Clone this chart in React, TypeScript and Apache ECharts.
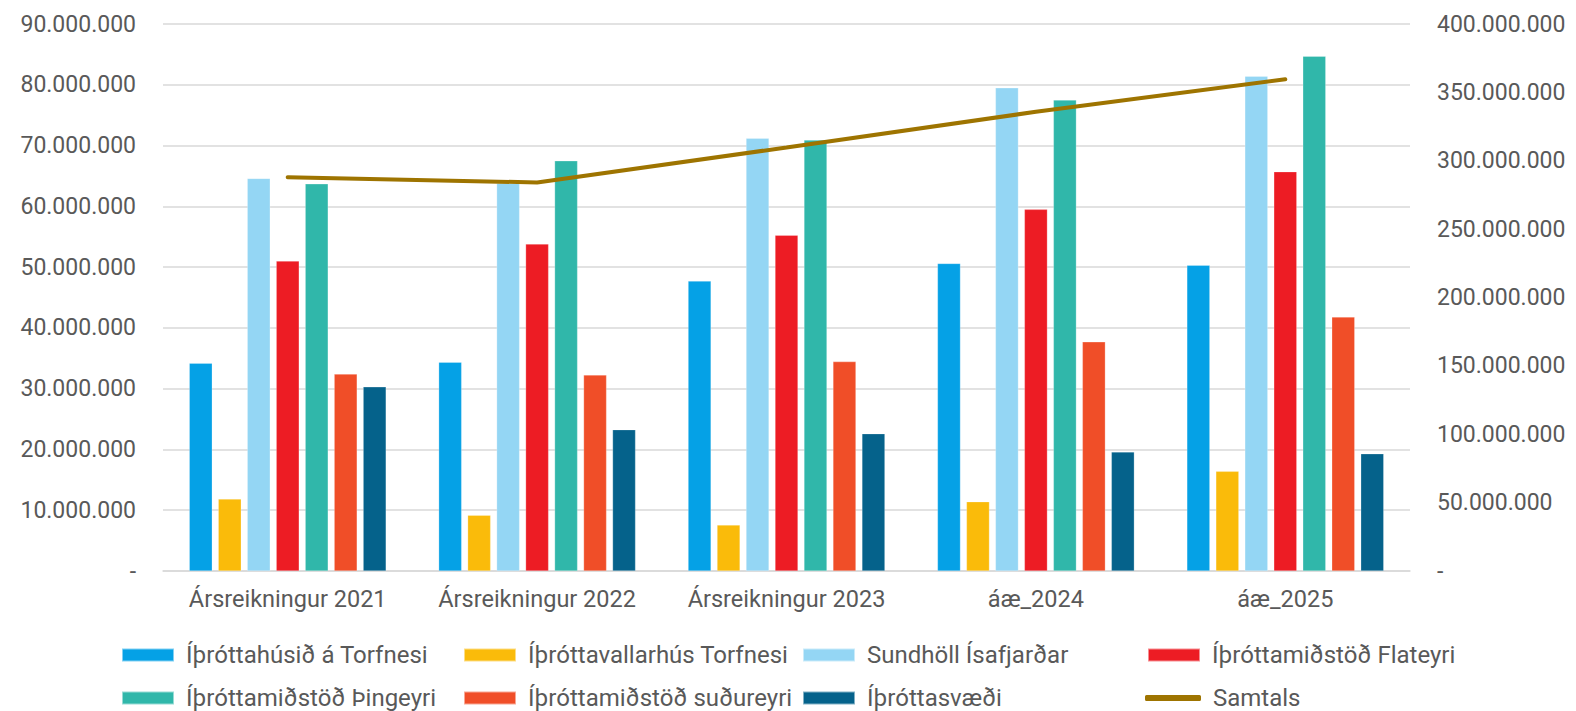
import React, { useEffect, useRef } from "react";
import * as echarts from "echarts";

const categories = ["Ársreikningur 2021", "Ársreikningur 2022", "Ársreikningur 2023", "áæ_2024", "áæ_2025"];

const torfnesHus = [34200000, 34350000, 47700000, 50600000, 50300000];
const torfnesVallarhus = [11850000, 9170000, 7570000, 11400000, 16400000];
const sundholl = [64600000, 63800000, 71200000, 79500000, 81400000];
const flateyri = [51000000, 53800000, 55250000, 59500000, 65700000];
const thingeyri = [63700000, 67500000, 70900000, 77500000, 84700000];
const sudureyri = [32400000, 32260000, 34450000, 37700000, 41800000];
const svaedi = [30300000, 23260000, 22600000, 19600000, 19300000];
const samtals = [288000000, 284100000, 309700000, 335800000, 359600000];

const barSeriesDefs = [
  { name: "Íþróttahúsið á Torfnesi", data: torfnesHus, color: "#05a1e6" },
  { name: "Íþróttavallarhús Torfnesi", data: torfnesVallarhus, color: "#fabb0a" },
  { name: "Sundhöll Ísafjarðar", data: sundholl, color: "#94d6f4" },
  { name: "Íþróttamiðstöð Flateyri", data: flateyri, color: "#ed1c24" },
  { name: "Íþróttamiðstöð Þingeyri", data: thingeyri, color: "#30b7aa" },
  { name: "Íþróttamiðstöð suðureyri", data: sudureyri, color: "#f04e28" },
  { name: "Íþróttasvæði", data: svaedi, color: "#05628b" },
];
const lineName = "Samtals";
const lineColor = "#9e7400";

const fmt = (v: number) =>
  v === 0 ? "-" : Math.round(v).toString().replace(/\B(?=(\d{3})+(?!\d))/g, ".");

const FONT = "Roboto";
const TXT = "#595959";

export default function App() {
  const ref = useRef<HTMLDivElement>(null);
  useEffect(() => {
    if (!ref.current) return;
    const chart = echarts.init(ref.current, undefined, { renderer: "svg" });

    const legendPos = [
      { left: 121, top: 641 },
      { left: 463, top: 641 },
      { left: 802, top: 641 },
      { left: 1147, top: 641 },
      { left: 121, top: 684 },
      { left: 463, top: 684 },
      { left: 802, top: 684 },
      { left: 1145, top: 684 },
    ];
    const legendNames = [...barSeriesDefs.map((d) => d.name), lineName];
    const legends = legendNames.map((n, i) => ({
      data: [n],
      left: legendPos[i].left,
      top: legendPos[i].top,
      padding: 0,
      itemWidth: i === 7 ? 56 : 52,
      itemHeight: i === 7 ? 6 : 13,
      icon: i === 7 ? "roundRect" : "rect",
      selectedMode: false,
      textStyle: {
        fontFamily: FONT,
        fontSize: 24,
        color: TXT,
        lineHeight: 28,
        padding: [0, 0, 0, 7],
      },
    }));

    chart.setOption({
      animation: false,
      backgroundColor: "#ffffff",
      textStyle: { fontFamily: FONT },
      grid: { left: 163, right: 166, top: 24, bottom: 140, containLabel: false },
      legend: legends,
      xAxis: {
        type: "category",
        data: categories,
        axisTick: { show: false },
        axisLine: { show: true, lineStyle: { color: "#d9d9d9", width: 1.5 } },
        axisLabel: { fontFamily: FONT, fontSize: 23.5, color: TXT, margin: 16, interval: 0 },
      },
      yAxis: [
        {
          type: "value",
          min: 0,
          max: 90000000,
          interval: 10000000,
          axisLine: { show: false },
          axisTick: { show: false },
          splitLine: { lineStyle: { color: "#d9d9d9", width: 1.5 } },
          axisLabel: { fontFamily: FONT, fontSize: 23, color: TXT, margin: 27, formatter: fmt },
        },
        {
          type: "value",
          min: 0,
          max: 400000000,
          interval: 50000000,
          axisLine: { show: false },
          axisTick: { show: false },
          splitLine: { show: false },
          axisLabel: { fontFamily: FONT, fontSize: 23, color: TXT, margin: 27, formatter: fmt },
        },
      ],
      series: [
        ...barSeriesDefs.map((d) => ({
          name: d.name,
          type: "bar",
          data: d.data,
          barWidth: 23,
          barGap: "26%",
          itemStyle: { color: d.color, borderColor: "rgba(255,255,255,0.5)", borderWidth: 0.5 },
        })),
        {
          name: lineName,
          type: "line",
          yAxisIndex: 1,
          data: samtals,
          symbol: "none",
          z: 10,
          itemStyle: { color: lineColor },
          lineStyle: { color: lineColor, width: 4, cap: "round" },
        },
      ],
    });
    return () => chart.dispose();
  }, []);
  return (
    <div
      ref={ref}
      style={{ position: "fixed", left: 0, top: 0, width: 1576, height: 711 }}
    />
  );
}
